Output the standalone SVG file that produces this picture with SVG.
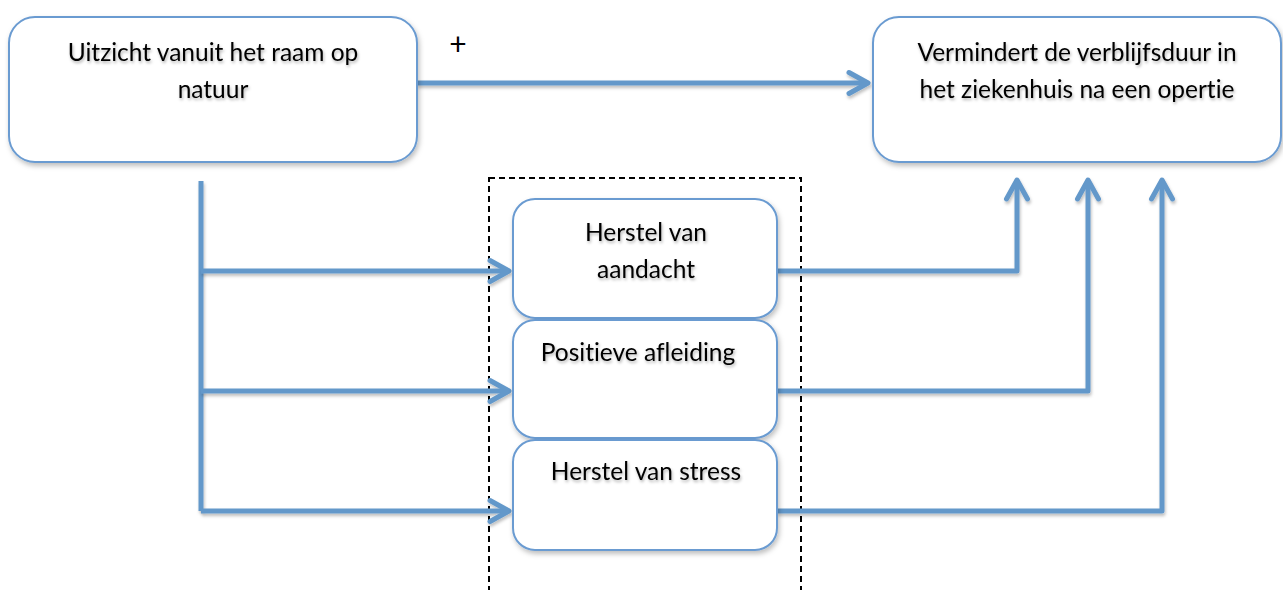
<svg xmlns="http://www.w3.org/2000/svg" width="1283" height="590" viewBox="0 0 1283 590">
<style>
.box{fill:#fff;stroke:#6a9bd1;stroke-width:2;filter:url(#sh)}
.conn{fill:none;stroke:#6398ca;stroke-width:5;stroke-linejoin:round;filter:url(#lsh)}
.t{font-family:Lato,"Liberation Sans",sans-serif;font-size:24.5px;fill:#000;text-anchor:middle;font-variant-ligatures:none;filter:url(#tsh)}
.plus{font-family:Lato,"Liberation Sans",sans-serif;font-size:30px;fill:#000;text-anchor:middle}
.dash{fill:none;stroke:#000;stroke-width:2;stroke-dasharray:6,4}
</style>
<defs>
<filter id="sh" filterUnits="userSpaceOnUse" x="0" y="0" width="1283" height="590">
<feDropShadow dx="1.5" dy="3" stdDeviation="2.5" flood-color="#000" flood-opacity="0.25"/>
</filter>
<filter id="lsh" filterUnits="userSpaceOnUse" x="0" y="0" width="1283" height="590">
<feDropShadow dx="1" dy="2.5" stdDeviation="1.5" flood-color="#000" flood-opacity="0.25"/>
</filter>
<filter id="tsh" filterUnits="userSpaceOnUse" x="0" y="0" width="1283" height="590">
<feDropShadow dx="1" dy="2" stdDeviation="1.5" flood-color="#000" flood-opacity="0.3"/>
</filter>
<marker id="ah" markerUnits="userSpaceOnUse" viewBox="-26 -16 30 32" refX="0" refY="0" markerWidth="30" markerHeight="32" orient="auto" overflow="visible">
<path d="M-19,-10.5 L0,0 L-19,10.5" fill="none" stroke="#6398ca" stroke-width="5" stroke-linecap="round" stroke-linejoin="round"/>
</marker>
</defs>

<rect class="dash" x="489" y="178" width="312" height="430"/>

<g id="connectors">
<path class="conn" d="M417,83 L868,83" marker-end="url(#ah)"/>
<path class="conn" d="M201,181 L201,511"/>
<path class="conn" d="M201,271 L509,271" marker-end="url(#ah)"/>
<path class="conn" d="M201,391 L509,391" marker-end="url(#ah)"/>
<path class="conn" d="M201,511 L509,511" marker-end="url(#ah)"/>
<path class="conn" d="M777,271 L1017,271 L1017,180" marker-end="url(#ah)"/>
<path class="conn" d="M777,391 L1088,391 L1088,180" marker-end="url(#ah)"/>
<path class="conn" d="M777,511 L1162,511 L1162,180" marker-end="url(#ah)"/>
</g>

<g id="plus"><text class="plus" x="458" y="55">+</text></g>

<g id="uitzicht">
<rect class="box" x="9" y="17" width="408" height="145" rx="26"/>
<text class="t" x="213" y="61">Uitzicht vanuit het raam op</text>
<text class="t" x="213" y="98">natuur</text>
</g>

<g id="vermindert">
<rect class="box" x="873" y="17" width="408" height="145" rx="26"/>
<text class="t" x="1077" y="61">Vermindert de verblijfsduur in</text>
<text class="t" x="1077" y="98">het ziekenhuis na een opertie</text>
</g>

<g id="aandacht">
<rect class="box" x="513" y="199" width="264" height="119" rx="22"/>
<text class="t" x="646" y="241">Herstel van</text>
<text class="t" x="646" y="278">aandacht</text>
</g>

<g id="afleiding">
<rect class="box" x="513" y="320" width="264" height="118" rx="22"/>
<text class="t" x="638" y="361">Positieve afleiding</text>
</g>

<g id="stress">
<rect class="box" x="513" y="440" width="264" height="110" rx="22"/>
<text class="t" x="646" y="480">Herstel van stress</text>
</g>
</svg>
